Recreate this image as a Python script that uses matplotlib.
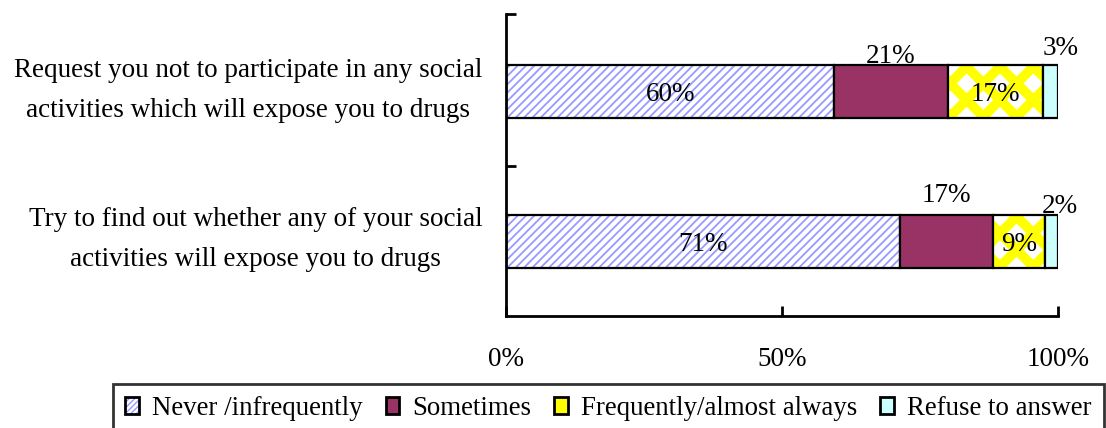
import numpy as np
import matplotlib.pyplot as plt
from matplotlib.patches import Patch

plt.rcParams['font.family'] = ['Liberation Serif', 'DejaVu Serif']

# data (percent of respondents), top row first
questions = ["Request you not to participate in any social\nactivities which will expose you to drugs",
             "Try to find out whether any of your social\nactivities will expose you to drugs"]
series = ["Never /infrequently", "Sometimes", "Frequently/almost always", "Refuse to answer"]
never = [59.5, 71.3]
sometimes = [20.5, 16.9]
frequent = [17.2, 9.5]
refuse = [2.8, 2.3]
labels_never = ["60%", "71%"]
labels_some = ["21%", "17%"]
labels_freq = ["17%", "9%"]
labels_ref = ["3%", "2%"]

FS = 19.5
ypos = [1, 0]
h = 0.353

fig = plt.figure(figsize=(11.06, 4.28), dpi=100)
ax = fig.add_axes([506/1106, 1-316/428, 552/1106, 302/428])


def seg(left, width, face, hatch=None, hcol=None, hlw=1.0):
    if hatch:
        # hatch width is taken from rcParams when the patch is made
        with plt.rc_context({'hatch.linewidth': hlw}):
            bars = ax.barh(ypos, width, left=left, height=h, color=face,
                           hatch=hatch, edgecolor=hcol, linewidth=0)
        for p in bars:
            if hasattr(p, 'set_hatch_linewidth'):
                p.set_hatch_linewidth(hlw)
    else:
        ax.barh(ypos, width, left=left, height=h, color=face, linewidth=0)
    ax.barh(ypos, width, left=left, height=h, fill=False, edgecolor='black', linewidth=1.6)


left = np.zeros(2)
seg(left, never, 'white', '////', '#9999ff', 1.3)
left = left + np.array(never)
seg(left, sometimes, '#993366')
left2 = left + np.array(sometimes)
seg(left2, frequent, 'white', 'x', '#ffff00', 7)
left3 = left2 + np.array(frequent)
seg(left3, refuse, '#ccffff')

for i, y in enumerate(ypos):
    ax.text(never[i] / 2, y - 0.02, labels_never[i], ha='center', va='center', fontsize=FS)
    ax.text(left2[i] + frequent[i] / 2, y - 0.02, labels_freq[i], ha='center', va='center', fontsize=FS)
# labels sitting above the bars
ax.text(left[0] + sometimes[0] / 2, 1.237, labels_some[0], ha='center', va='center', fontsize=FS)
ax.text(left[1] + sometimes[1] / 2, 0.303, labels_some[1], ha='center', va='center', fontsize=FS)
ax.text(100.4, 1.29, labels_ref[0], ha='center', va='center', fontsize=FS)
ax.text(100.4, 0.23, labels_ref[1], ha='center', va='center', fontsize=FS)

ax.set_xlim(0, 100)
ax.set_ylim(-0.5, 1.52)
ax.set_xticks([0, 50, 100])
ax.set_xticklabels(["0%", "50%", "100%"], fontsize=FS)
ax.tick_params(axis='x', direction='in', length=7, width=2, pad=22)
# category text sits a little above the bar centres
ax.set_yticks([y + 0.08 for y in ypos])
ax.set_yticklabels(questions, fontsize=FS, multialignment='center', linespacing=1.8)
ax.tick_params(axis='y', which='major', length=0, pad=17)
ax.set_yticks([0.5, 1.52], minor=True)
ax.tick_params(axis='y', which='minor', direction='in', length=7, width=2)
for s in ['top', 'right']:
    ax.spines[s].set_visible(False)
for s in ['left', 'bottom']:
    ax.spines[s].set_linewidth(2)


def border():
    return Patch(fill=False, edgecolor='black', linewidth=2)


with plt.rc_context({'hatch.linewidth': 1.3}):
    h_never = Patch(facecolor='white', hatch='//////', edgecolor='#9999ff', linewidth=0)
handles = [(h_never, border()),
           (Patch(facecolor='#993366', linewidth=0), border()),
           (Patch(facecolor='#ffff00', linewidth=0), border()),
           (Patch(facecolor='#ccffff', linewidth=0), border())]
top = 1 - 384/428
leg = fig.legend(handles, series, loc='upper left',
                 bbox_to_anchor=(113/1106, top - 0.2, 991/1106, 0.2), mode='expand',
                 ncol=4, fontsize=19.4, frameon=True, fancybox=False, edgecolor='black',
                 handlelength=0.5, handleheight=0.6, handletextpad=0.5, columnspacing=0.5,
                 borderpad=0.45, borderaxespad=0)
leg.get_frame().set_linewidth(2)

fig.savefig('out.png', dpi=100)
